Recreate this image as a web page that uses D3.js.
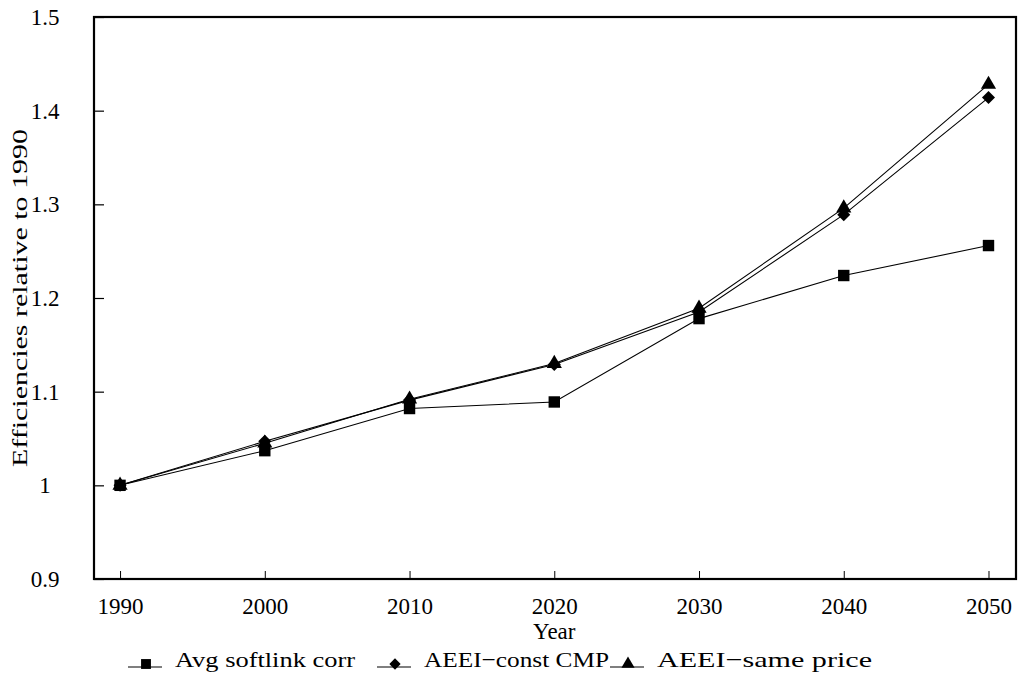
<!DOCTYPE html>
<html>
<head>
<meta charset="utf-8">
<script src="https://cdn.jsdelivr.net/npm/d3@7"></script>
<style>
  body { margin: 0; background: #fff; }
  text { font-family: "Liberation Serif", "DejaVu Serif", serif; fill: #000; }
</style>
</head>
<body>
<div id="chart"></div>
<script>
// data
const years = [1990, 2000, 2010, 2020, 2030, 2040, 2050];
const avgSoftlink = [1.000, 1.037, 1.082, 1.089, 1.178, 1.224, 1.256];
const aeeiConstCmp = [1.000, 1.047, 1.091, 1.129, 1.185, 1.289, 1.414];
const aeeiSamePrice = [1.000, 1.045, 1.092, 1.130, 1.189, 1.296, 1.428];
const yTicks = [0.9, 1, 1.1, 1.2, 1.3, 1.4, 1.5];
const seriesNames = ['Avg softlink corr', 'AEEI\u2212const CMP', 'AEEI\u2212same price'];

// diamond = square turned 45 degrees (d3's own diamond is too narrow)
const diamond = {
  draw(ctx, size) {
    const r = Math.sqrt(size / 2);
    ctx.moveTo(0, -r); ctx.lineTo(r, 0); ctx.lineTo(0, r); ctx.lineTo(-r, 0); ctx.closePath();
  }
};

const series = [
  {name: seriesNames[0], values: avgSoftlink, symbol: d3.symbolSquare, size: 130, legendW: 180},
  {name: seriesNames[1], values: aeeiConstCmp, symbol: diamond, size: 85, legendW: 185},
  {name: seriesNames[2], values: aeeiSamePrice, symbol: d3.symbolTriangle, size: 100, legendW: 215}
];

const width = 1018, height = 693;
const margin = {top: 17, right: 2, bottom: 114, left: 94};
const innerW = width - margin.left - margin.right;
const innerH = height - margin.top - margin.bottom;

const svg = d3.select('#chart').append('svg')
  .attr('width', width).attr('height', height);
const g = svg.append('g').attr('transform', `translate(${margin.left},${margin.top})`);

const x = d3.scaleLinear().domain([1988.2, 2051.9]).range([0, innerW]);
const y = d3.scaleLinear().domain([0.9, 1.5]).range([innerH, 0]);

// frame
g.append('rect').attr('x', 0).attr('y', 0).attr('width', innerW).attr('height', innerH)
  .attr('fill', 'none').attr('stroke', '#000').attr('stroke-width', 2.2);

// y axis, ticks pointing inward
const yAxis = g.append('g').call(d3.axisRight(y).tickValues(yTicks).tickSize(10).tickFormat(d3.format('~g')));
yAxis.select('.domain').remove();
yAxis.selectAll('line').attr('stroke-width', 1.2);
yAxis.selectAll('text').attr('x', -49).attr('text-anchor', 'middle')
  .style('font-size', '23px');

// x axis, ticks pointing up
const xAxis = g.append('g').attr('transform', `translate(0,${innerH})`)
  .call(d3.axisTop(x).tickValues(years).tickSize(8).tickFormat(d3.format('d')));
xAxis.select('.domain').remove();
xAxis.selectAll('line').attr('stroke-width', 1);
xAxis.selectAll('text').attr('y', 28).attr('dy', '0.32em').style('font-size', '23px');

// axis titles
g.append('text').attr('x', x(2020)).attr('y', innerH + 53).attr('dy', '0.32em')
  .attr('text-anchor', 'middle').style('font-size', '23px').text('Year');
svg.append('text').attr('transform', `translate(20,${margin.top + y(1.2)}) rotate(-90)`)
  .attr('text-anchor', 'middle').attr('dy', '0.32em').style('font-size', '22px')
  .attr('textLength', 338).attr('lengthAdjust', 'spacingAndGlyphs')
  .text('Efficiencies relative to 1990');

// lines + markers
const line = d3.line().x((d, i) => x(years[i])).y(d => y(d));
series.forEach(s => {
  g.append('path').datum(s.values).attr('d', line)
    .attr('fill', 'none').attr('stroke', '#000').attr('stroke-width', 1.1);
  g.selectAll(null).data(s.values).enter().append('path')
    .attr('transform', (d, i) => `translate(${x(years[i])},${y(d)})`)
    .attr('d', d3.symbol().type(s.symbol).size(s.size))
    .attr('fill', '#000');
});

// legend
const legendX = [128, 377, 610];
const legend = svg.append('g').attr('transform', 'translate(0,660)');
series.forEach((s, i) => {
  const lg = legend.append('g').attr('transform', `translate(${legendX[i]},0)`);
  lg.append('line').attr('x1', 0).attr('x2', 34).attr('y1', 7).attr('y2', 7)
    .attr('stroke', '#000').attr('stroke-width', 1.2);
  lg.append('path').attr('transform', 'translate(18,4)')
    .attr('d', d3.symbol().type(s.symbol).size(s.size * 0.75)).attr('fill', '#000');
  lg.append('text').attr('x', 47).attr('y', 0).attr('dy', '0.32em')
    .style('font-size', '22px')
    .attr('textLength', s.legendW).attr('lengthAdjust', 'spacingAndGlyphs')
    .text(s.name);
});
</script>
</body>
</html>
